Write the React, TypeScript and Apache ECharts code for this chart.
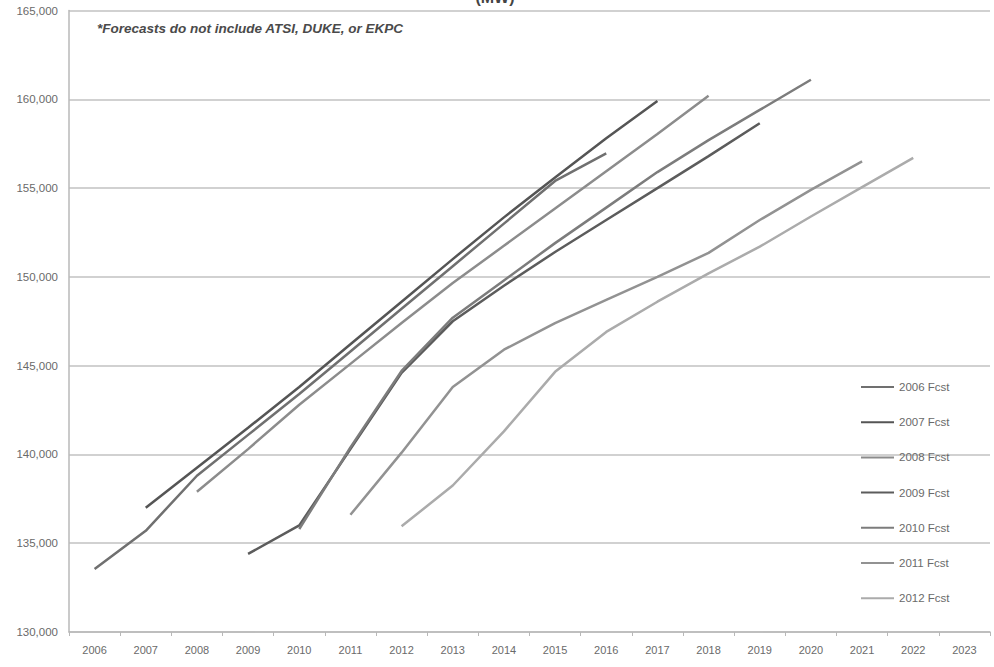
import React, { useEffect, useRef } from "react";
import * as echarts from "echarts";

const years = [
  "2006", "2007", "2008", "2009", "2010", "2011", "2012", "2013", "2014",
  "2015", "2016", "2017", "2018", "2019", "2020", "2021", "2022", "2023",
];

const seriesNames = [
  "2006 Fcst", "2007 Fcst", "2008 Fcst", "2009 Fcst", "2010 Fcst", "2011 Fcst", "2012 Fcst",
];

const fcst2006 = [133550, 135700, 138800, 141100, 143400, 145800, 148200, 150600, 153000, 155400, 156950, null, null, null, null, null, null, null];
const fcst2007 = [null, 137000, 139250, 141500, 143800, 146200, 148600, 151000, 153350, 155600, 157800, 159900, null, null, null, null, null, null];
const fcst2008 = [null, null, 137900, 140300, 142800, 145100, 147400, 149650, 151750, 153850, 155950, 158050, 160200, null, null, null, null, null];
const fcst2009 = [null, null, null, 134400, 136000, 140300, 144600, 147500, 149500, 151400, 153200, 155000, 156800, 158650, null, null, null, null];
const fcst2010 = [null, null, null, null, 135800, 140400, 144700, 147700, 149800, 151900, 153900, 155900, 157700, 159400, 161100, null, null, null];
const fcst2011 = [null, null, null, null, null, 136600, 140100, 143800, 145900, 147400, 148700, 150000, 151350, 153200, 154900, 156500, null, null];
const fcst2012 = [null, null, null, null, null, null, 135950, 138250, 141300, 144650, 146900, 148600, 150200, 151700, 153400, 155050, 156700, null];

const allSeries = [fcst2006, fcst2007, fcst2008, fcst2009, fcst2010, fcst2011, fcst2012];
const lineColors = ["#707070", "#555555", "#8c8c8c", "#5c5c5c", "#7c7c7c", "#929292", "#ababab"];

const noteText = "*Forecasts do not include ATSI, DUKE, or EKPC";
const titleText = "(MW)";

export default function App() {
  const ref = useRef<HTMLDivElement>(null);

  useEffect(() => {
    if (!ref.current) return;
    const chart = echarts.init(ref.current, undefined, { renderer: "svg" });
    const fontFamily = "'Liberation Sans', Arial, sans-serif";
    chart.setOption({
      animation: false,
      backgroundColor: "#ffffff",
      textStyle: { fontFamily },
      grid: { left: 69, right: 4, top: 10.5, bottom: 35, containLabel: false },
      graphic: [
        {
          type: "text",
          left: 97,
          top: 21,
          style: {
            text: noteText,
            fontSize: 13.5,
            fontWeight: "bold",
            fontStyle: "italic",
            fill: "#4a4a4a",
            fontFamily,
          },
        },
        {
          type: "text",
          x: 495,
          y: -11,
          style: {
            text: titleText,
            fontSize: 16,
            fontWeight: "bold",
            fill: "#444444",
            align: "center",
            fontFamily,
          },
        },
      ],
      legend: {
        orient: "vertical",
        left: 855,
        top: 375,
        itemGap: 21.2,
        itemWidth: 33,
        itemHeight: 14,
        data: seriesNames,
        itemStyle: { opacity: 0 },
        textStyle: { fontSize: 11.5, color: "#6a6a6a", fontFamily, lineHeight: 14 },
      },
      xAxis: {
        type: "category",
        data: years,
        boundaryGap: true,
        axisLine: { lineStyle: { color: "#b8b8b8", width: 1.5 } },
        axisTick: { show: true, length: 4, lineStyle: { color: "#b8b8b8" } },
        axisLabel: { fontSize: 11, color: "#6a6a6a", margin: 12 },
      },
      yAxis: {
        type: "value",
        min: 130000,
        max: 165000,
        interval: 5000,
        axisLine: { show: true, lineStyle: { color: "#b8b8b8", width: 1.5 } },
        axisTick: { show: false },
        axisLabel: {
          fontSize: 11.5,
          color: "#6a6a6a",
          margin: 11,
          formatter: (v: number) => v.toLocaleString("en-US"),
        },
        splitLine: { show: true, lineStyle: { color: "#c2c2c2", width: 1.5 } },
      },
      series: allSeries.map((d, i) => ({
        name: seriesNames[i],
        type: "line",
        data: d,
        symbol: "none",
        connectNulls: false,
        lineStyle: { color: lineColors[i], width: 2.5 },
        itemStyle: { color: lineColors[i] },
      })),
    });
    return () => chart.dispose();
  }, []);

  return (
    <div
      ref={ref}
      style={{ position: "fixed", left: 0, top: 0, width: 994, height: 667, background: "#fff" }}
    />
  );
}
